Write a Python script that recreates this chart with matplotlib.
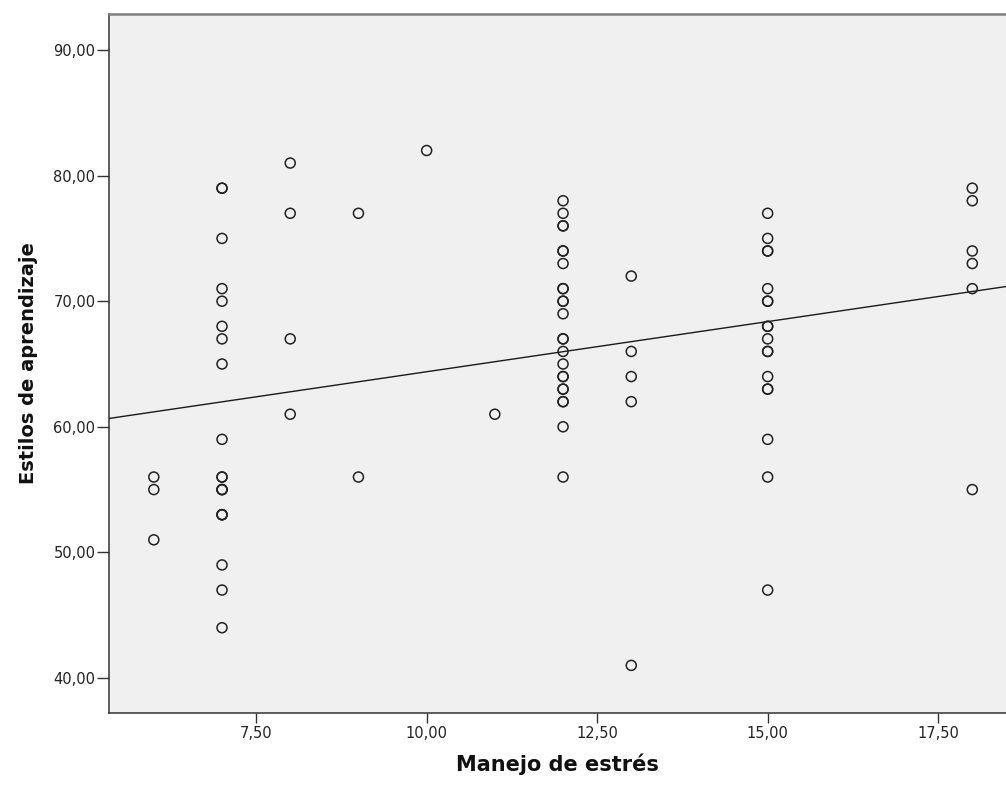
import matplotlib
matplotlib.use("Agg")
import matplotlib.pyplot as plt
import numpy as np

# Data (x = Manejo de estrés, y = Estilos de aprendizaje)
# darker (overlapping) circles are counted as repeated values
x6 = [56, 55, 51]
x7 = [79, 79, 75, 71, 70, 68, 67, 65, 59, 56, 56, 55, 55, 55, 53, 53, 53, 49, 47, 44]
x8 = [81, 77, 67, 61]
x9 = [77, 56]
x10 = [82]
x11 = [61]
x12 = [78, 77, 76, 76, 74, 74, 73, 71, 71, 70, 70, 69, 67, 67, 66, 65,
       64, 64, 63, 63, 62, 62, 60, 56]
x13 = [72, 66, 64, 62, 41]
x15 = [77, 75, 74, 74, 71, 70, 70, 68, 68, 67, 66, 66, 64, 63, 63, 59, 56, 47]
x18 = [79, 78, 74, 73, 71, 55]

groups = {6: x6, 7: x7, 8: x8, 9: x9, 10: x10, 11: x11, 12: x12, 13: x13, 15: x15, 18: x18}
xs = np.concatenate([[k] * len(v) for k, v in groups.items()]).astype(float)
ys = np.concatenate([v for v in groups.values()]).astype(float)

xticks = [7.5, 10.0, 12.5, 15.0, 17.5]
yticks = [40, 50, 60, 70, 80, 90]
xlim = (5.343, 18.495)
ylim = (37.21, 92.87)

fig = plt.figure(figsize=(10.06, 7.87), dpi=100)
fig.patch.set_facecolor("white")
ax = fig.add_axes([0.10835, 0.09403, 0.8917, 0.8882])
ax.set_facecolor("#f0f0f0")

slope, intercept = np.polyfit(xs, ys, 1)
lx = np.array(xlim)
ax.plot(lx, intercept + slope * lx, color="#1a1a1a", lw=1.0, zorder=2)

ax.scatter(xs, ys, s=52, facecolors="none", edgecolors="#222222", linewidths=1.1, zorder=3)

ax.set_xlim(*xlim)
ax.set_ylim(*ylim)
ax.set_xticks(xticks)
ax.set_xticklabels([f"{v:.2f}".replace(".", ",") for v in xticks],
                   family="DejaVu Sans", fontsize=10.5)
ax.set_yticks(yticks)
ax.set_yticklabels([f"{v:.2f}".replace(".", ",") for v in yticks],
                   family="DejaVu Sans", fontsize=10.5)
ax.tick_params(direction="out", width=1.0, color="#333333", labelcolor="#222222")
ax.tick_params(axis="x", length=7.2, pad=2.5)
ax.tick_params(axis="y", length=8.6, pad=1.2)

ax.spines["right"].set_visible(False)
ax.spines["left"].set_color("#333333")
ax.spines["left"].set_linewidth(1.1)
ax.spines["bottom"].set_color("#333333")
ax.spines["bottom"].set_linewidth(1.1)
ax.spines["top"].set_color("#7f7f7f")
ax.spines["top"].set_linewidth(1.8)

ax.set_xlabel("Manejo de estrés", family="DejaVu Sans",
              fontweight="bold", fontsize=15, labelpad=9, color="#111111")
ax.set_ylabel("Estilos de aprendizaje", family="DejaVu Sans",
              fontweight="bold", fontsize=14, labelpad=11, color="#111111")

fig.savefig("out.png", dpi=100)
